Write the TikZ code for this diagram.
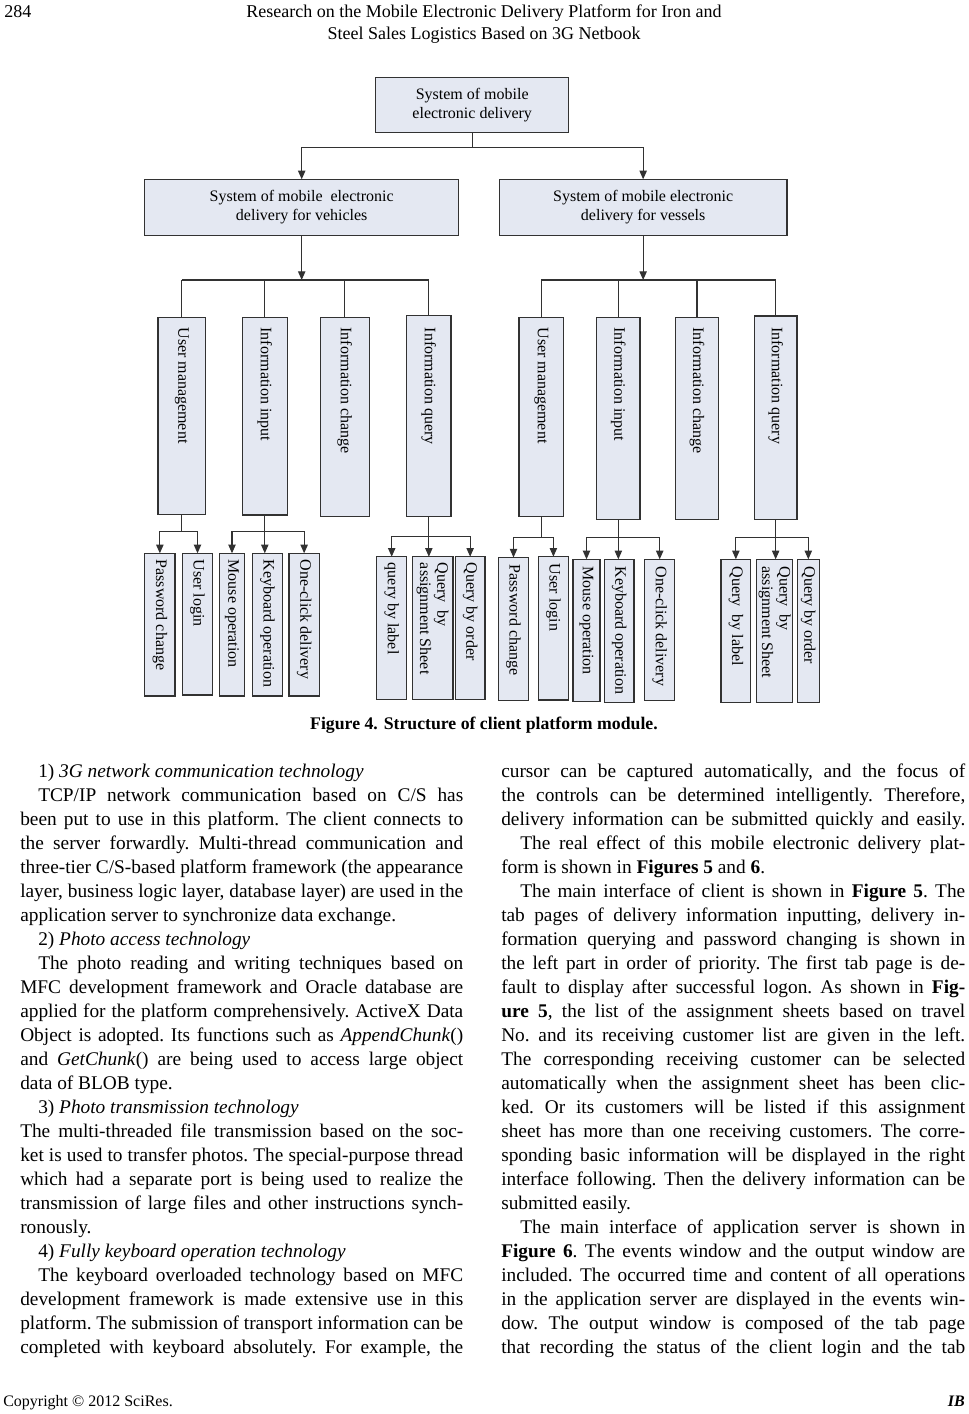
\documentclass[tikz,border=0pt]{standalone}
\usepackage{fontspec}
\setmainfont{Liberation Serif}
\usetikzlibrary{arrows.meta,calc}
\definecolor{boxfill}{RGB}{228,232,242}
\definecolor{boxline}{RGB}{50,50,50}
\newlength\pxu \setlength\pxu{0.75pt}
\newcommand\bodyfont{\fontsize{14.5}{17}\selectfont}
\newcommand\BX[6]{\node[bx, minimum width={(#4-#2)*0.75pt}, minimum height={(#5-#3)*0.75pt}] (#1) at ({(#2+#4)/2},{(#3+#5)/2}) {#6};}
\newcommand\VB[7]{\BX{#1}{#2}{#3}{#4}{#5}{}\node[vt] (#1t) at ($(#1.north)+(0,#6)$) {#7};}
\newcommand\LN[4]{\node[txt] (#1) at (#2,#3) {#4};}
\newcommand\JN[5]{\node[txt] (#1) at (#2,#3) {\makebox[#4\pxu][s]{#5}};}
\begin{document}
\begin{tikzpicture}[x=0.75pt,y=-0.75pt,
  bx/.style={draw=boxline, fill=boxfill, line width=1.1pt, inner sep=0pt, outer sep=0pt, font=\fontsize{12}{14.25}\selectfont, align=center},
  vt/.style={rotate=-90, anchor=west, inner sep=0pt, font=\fontsize{12}{13}\selectfont, align=left},
  conn/.style={draw=boxline, line width=0.8pt},
  arr/.style={conn, -{Triangle[length=6.5pt,width=5.5pt]}},
  txt/.style={anchor=base west, inner sep=0pt, font=\bodyfont\frenchspacing},
  hdr/.style={inner sep=0pt, font=\fontsize{13.5}{16}\selectfont}]
\useasboundingbox (0,0) rectangle (968,1414);
\fill[white] (0,0) rectangle (968,1414);

% header
\node[hdr, anchor=base west] (pg) at (4,17) {284};
\node[hdr, anchor=base] (h1) at (484,17) {Research on the Mobile Electronic Delivery Platform for Iron and};
\node[hdr, anchor=base] (h2) at (484,39) {Steel Sales Logistics Based on 3G Netbook};

% diagram boxes
\BX{top}{375.7}{77.3}{568.7}{132.7}{System of mobile\\electronic delivery}
\BX{veh}{144.7}{179.3}{458.7}{235.3}{System of mobile~ electronic\\delivery for vehicles}
\BX{ves}{499.3}{179.3}{787}{235.3}{System of mobile electronic\\delivery for vessels}

\VB{vum}{158}{317.3}{205.7}{514.3}{10}{User management}
\VB{vii}{242.3}{317.3}{287.3}{515}{10}{Information input}
\VB{vic}{320.3}{317.3}{369.3}{516.7}{10}{Information change}
\VB{viq}{406.7}{315.7}{451}{516.7}{12}{Information query}
\VB{sum}{519}{317.3}{563.7}{516.7}{10}{User management}
\VB{sii}{596.7}{317.3}{640}{519.3}{10}{Information input}
\VB{sic}{675.3}{317.3}{718.7}{519.3}{10}{Information change}
\VB{siq}{754.3}{316}{797}{519.3}{11}{Information query}

\VB{vpc}{144.7}{553.3}{175}{696}{6}{Password change}
\VB{vul}{182.3}{553.3}{212.7}{695}{6}{User login}
\VB{vmo}{219.3}{553.3}{244.7}{696}{6}{Mouse operation}
\VB{vko}{252.3}{553.3}{282.5}{696}{6}{Keyboard operation}
\VB{voc}{289}{553.3}{319.3}{696}{6}{One-click delivery}
\VB{vql}{376.7}{556.7}{406.7}{699.3}{6}{query by label}
\VB{vqa}{412.3}{556.7}{453}{699.3}{6}{Query~ by\\assignment Sheet}
\VB{vqo}{455.3}{556.7}{485}{699.3}{6}{Query by order}
\VB{spc}{498.5}{557.5}{528.5}{700.7}{7}{Password change}
\VB{sul}{538.3}{556.7}{568.5}{700}{7}{User login}
\VB{smo}{573}{559.3}{600}{701.7}{7}{Mouse operation}
\VB{sko}{604.3}{559.3}{634}{702.7}{7}{Keyboard operation}
\VB{soc}{644.7}{559.3}{674.7}{700.7}{7}{One-click delivery}
\VB{sql}{721}{559.3}{750.7}{702.7}{7}{Query~ by label}
\VB{sqa}{756.7}{559.3}{792.7}{702.7}{7}{Query~ by\\assignment Sheet}
\VB{sqo}{797.3}{559.3}{819.3}{702.7}{7}{Query by order}

% connectors level 1
\coordinate (j0) at (0,147.7);
\draw[conn] (top.south) -- (top.south |- j0);
\draw[arr] (top.south |- j0) -| (veh.north);
\draw[arr] (top.south |- j0) -| (ves.north);

% level 2
\coordinate (bus) at (0,280);
\draw[arr] (veh.south) -- (veh.south |- bus);
\draw[arr] (ves.south) -- (ves.south |- bus);
\draw[conn] (vum.north |- bus) -- (viq.north |- bus);
\draw[conn] (sum.north |- bus) -- (siq.north |- bus);
\foreach \n in {vum,vii,vic,viq,sum,sii,sic,siq}
  \draw[conn] (\n.north |- bus) -- (\n.north);

% level 3
\coordinate (vj1) at (0,531.7);
\coordinate (vj2) at (0,536.7);
\coordinate (sj) at (0,537.7);
\draw[conn] (vum.south) -- (vum.south |- vj1);
\draw[arr] (vum.south |- vj1) -| (vpc.north);
\draw[arr] (vum.south |- vj1) -| (vul.north);
\draw[conn] (vii.south) -- (vii.south |- vj1);
\draw[arr] (vii.south |- vj1) -| (vmo.north);
\draw[arr] (vii.south |- vj1) -| (voc.north);
\draw[arr] (vii.south |- vj1) -- (vii.south |- vko.north);
\draw[conn] (viq.south) -- (viq.south |- vj2);
\draw[arr] (viq.south |- vj2) -| (vql.north);
\draw[arr] (viq.south |- vj2) -| (vqo.north);
\draw[arr] (viq.south |- vj2) -- (viq.south |- vqa.north);
\draw[conn] (sum.south) -- (sum.south |- sj);
\draw[arr] (sum.south |- sj) -| (spc.north);
\draw[arr] (sum.south |- sj) -| (sul.north);
\draw[conn] (sii.south) -- (sii.south |- sj);
\draw[arr] (sii.south |- sj) -| (smo.north);
\draw[arr] (sii.south |- sj) -| (soc.north);
\draw[arr] (sii.south |- sj) -- (sii.south |- sko.north);
\draw[conn] (siq.south) -- (siq.south |- sj);
\draw[arr] (siq.south |- sj) -| (sql.north);
\draw[arr] (siq.south |- sj) -| (sqo.north);
\draw[arr] (siq.south |- sj) -- (siq.south |- sqa.north);

% caption
\node[inner sep=0pt, anchor=base, font=\fontsize{13.3}{16}\selectfont\bfseries] (cap) at (484,729) {Figure 4. Structure of client platform module.};

% left column
\LN{l1}{38}{777}{1) \textit{3G network communication technology}}
\JN{l2}{38}{801}{425}{TCP/IP network communication based on C/S has}
\JN{l3}{20}{825}{443}{been put to use in this platform. The client connects to}
\JN{l4}{20}{849}{443}{the server forwardly. Multi-thread communication and}
\JN{l5}{20}{873}{443}{three-tier C/S-based platform framework (the appearance}
\JN{l6}{20}{897}{443}{layer, business logic layer, database layer) are used in the}
\LN{l7}{20}{921}{application server to synchronize data exchange.}
\LN{l8}{38}{945}{2) \textit{Photo access technology}}
\JN{l9}{38}{969}{425}{The photo reading and writing techniques based on}
\JN{l10}{20}{993}{443}{MFC development framework and Oracle database are}
\JN{l11}{20}{1017}{443}{applied for the platform comprehensively. ActiveX Data}
\JN{l12}{20}{1041}{443}{Object is adopted. Its functions such as \textit{AppendChunk}()}
\JN{l13}{20}{1065}{443}{and \textit{GetChunk}() are being used to access large object}
\LN{l14}{20}{1089}{data of BLOB type.}
\LN{l15}{38}{1113}{3) \textit{Photo transmission technology}}
\JN{l16}{20}{1137}{443}{The multi-threaded file transmission based on the soc-}
\JN{l17}{20}{1161}{443}{ket is used to transfer photos. The special-purpose thread}
\JN{l18}{20}{1185}{443}{which had a separate port is being used to realize the}
\JN{l19}{20}{1209}{443}{transmission of large files and other instructions synch-}
\LN{l20}{20}{1233}{ronously.}
\LN{l21}{38}{1257}{4) \textit{Fully keyboard operation technology}}
\JN{l22}{38}{1281}{425}{The keyboard overloaded technology based on MFC}
\JN{l23}{20}{1305}{443}{development framework is made extensive use in this}
\JN{l24}{20}{1329}{443}{platform. The submission of transport information can be}
\JN{l25}{20}{1353}{443}{completed with keyboard absolutely. For example, the}

% right column
\JN{r1}{501}{777}{464}{cursor can be captured automatically, and the focus of}
\JN{r2}{501}{801}{464}{the controls can be determined intelligently. Therefore,}
\JN{r3}{501}{825}{464}{delivery information can be submitted quickly and easily.}
\JN{r4}{520}{849}{445}{The real effect of this mobile electronic delivery plat-}
\LN{r5}{501}{873}{form is shown in \textbf{Figures 5} and \textbf{6}.}
\JN{r6}{520}{897}{445}{The main interface of client is shown in \textbf{Figure 5}. The}
\JN{r7}{501}{921}{464}{tab pages of delivery information inputting, delivery in-}
\JN{r8}{501}{945}{464}{formation querying and password changing is shown in}
\JN{r9}{501}{969}{464}{the left part in order of priority. The first tab page is de-}
\JN{r10}{501}{993}{464}{fault to display after successful logon. As shown in \textbf{Fig-}}
\JN{r11}{501}{1017}{464}{\textbf{ure 5}, the list of the assignment sheets based on travel}
\JN{r12}{501}{1041}{464}{No. and its receiving customer list are given in the left.}
\JN{r13}{501}{1065}{464}{The corresponding receiving customer can be selected}
\JN{r14}{501}{1089}{464}{automatically when the assignment sheet has been clic-}
\JN{r15}{501}{1113}{464}{ked. Or its customers will be listed if this assignment}
\JN{r16}{501}{1137}{464}{sheet has more than one receiving customers. The corre-}
\JN{r17}{501}{1161}{464}{sponding basic information will be displayed in the right}
\JN{r18}{501}{1185}{464}{interface following. Then the delivery information can be}
\LN{r19}{501}{1209}{submitted easily.}
\JN{r20}{520}{1233}{445}{The main interface of application server is shown in}
\JN{r21}{501}{1257}{464}{\textbf{Figure 6}. The events window and the output window are}
\JN{r22}{501}{1281}{464}{included. The occurred time and content of all operations}
\JN{r23}{501}{1305}{464}{in the application server are displayed in the events win-}
\JN{r24}{501}{1329}{464}{dow. The output window is composed of the tab page}
\JN{r25}{501}{1353}{464}{that recording the status of the client login and the tab}

% footer
\node[hdr, anchor=base west, font=\fontsize{12}{14}\selectfont] (cr) at (3,1406) {Copyright \textcopyright\ 2012 SciRes.};
\node[hdr, anchor=base east, font=\fontsize{12}{14}\selectfont\bfseries\itshape] (ib) at (965,1406) {IB};
\end{tikzpicture}
\end{document}
